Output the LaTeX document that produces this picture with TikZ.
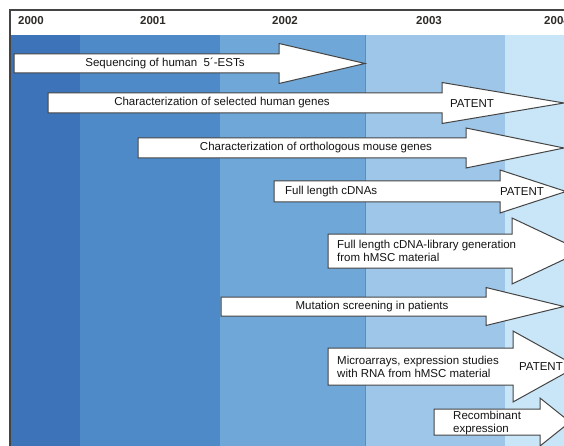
\documentclass[tikz,border=0pt]{standalone}
\usepackage{fontspec}
\setmainfont{Liberation Sans}

\definecolor{bandA}{HTML}{3C73B9}
\definecolor{bandB}{HTML}{4E8AC7}
\definecolor{bandC}{HTML}{6FA7D8}
\definecolor{bandD}{HTML}{9DC6E9}
\definecolor{bandE}{HTML}{C8E6F8}
\definecolor{framegray}{HTML}{444444}

\begin{document}
\begin{tikzpicture}[x=1pt, y=-1pt,
    every node/.style={inner sep=0pt, text=black!92, font=\fontsize{11.5}{12.8}\selectfont},
    blockarrow/.style={fill=white, draw=framegray, line width=1pt, line join=miter},
    yearlabel/.style={font=\fontsize{11.5}{12}\selectfont\bfseries, text=black!90!olive}]
  \useasboundingbox (0,0) rectangle (564,446);
  \clip (0,0) rectangle (564,446);
  \def\bandtop{35}

  \foreach \xa/\xb/\c in {10/80/bandA, 80/220/bandB, 220/365/bandC, 365/505/bandD, 505/564/bandE}
    \fill[\c] (\xa, \bandtop) rectangle (\xb, 446);
  \draw[bandC!85!black, line width=.6pt] (365, \bandtop) -- (365, 446);
  \draw[framegray, line width=1.3pt] (10, 446) -- (10, 10) -- (564, 10);

  \foreach \yr/\x in {2000/31, 2001/153, 2002/285, 2003/429, 2004/557}
    \node[yearlabel] (y\yr) at (\x, 21) {\yr};

  \foreach \xa/\ya/\yb/\xb/\h/\xt in {14/54/73/279/20/365, 48/93/113/442/20.5/564,
      138/138/158/466/20/564, 274/181/202/500/21.5/566, 328/234/268/512/33/582,
      221/297/316/486/19/564, 328/348/385/513/35.5/577, 434/409/435/540/24/570} {
    \pgfmathsetmacro\mid{(\ya+\yb)/2}
    \filldraw[blockarrow] (\xa, \ya) -- (\xb, \ya) -- (\xb, \mid-\h) -- (\xt, \mid)
      -- (\xb, \mid+\h) -- (\xb, \yb) -- (\xa, \yb) -- cycle;
  }

  \node (ests) at (165, 63.5) {Sequencing of human~ 5´-ESTs};
  \node (human) at (222, 103) {Characterization of selected human genes};
  \node (patA) at (472, 104) {PATENT};
  \node (mouse) at (316, 148) {Characterization of orthologous mouse genes};
  \node[anchor=west] (cdna) at (285, 192) {Full length cDNAs};
  \node (patB) at (522, 192) {PATENT};
  \node[anchor=west, align=left] (library) at (337, 251) {Full length cDNA-library generation\\from hMSC material};
  \node (mutation) at (372, 307) {Mutation screening in patients};
  \node[anchor=west, align=left] (micro) at (337, 367) {Microarrays, expression studies\\with RNA from hMSC material};
  \node[anchor=east] (patC) at (563, 367) {PATENT};
  \node[anchor=west, align=left] (recomb) at (453, 423) {Recombinant\\expression};
\end{tikzpicture}
\end{document}
